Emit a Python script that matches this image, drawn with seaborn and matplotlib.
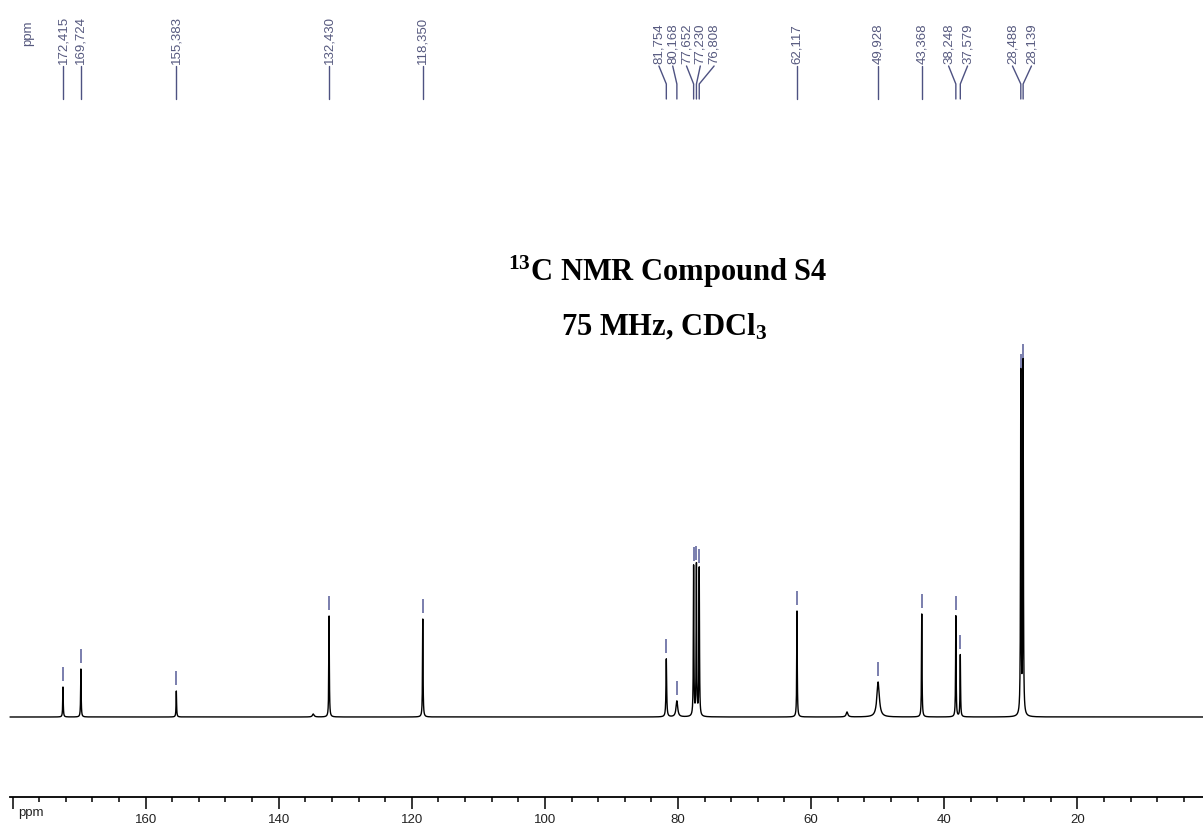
import numpy as np
import pandas as pd
import matplotlib
matplotlib.use("Agg")
import matplotlib.pyplot as plt
import seaborn as sns

# Picked 13C signals (ppm) and their relative intensities
peak_ppm = [172.415, 169.724, 155.383, 132.430, 118.350,
            81.754, 80.168, 77.652, 77.230, 76.808,
            62.117, 49.928, 43.368, 38.248, 37.579, 28.488, 28.139]
peak_height = [30, 48, 26, 101, 98,
               58, 16, 150, 151, 148,
               106, 35, 103, 101, 62, 343, 353]
peak_hwhm = [0.045, 0.045, 0.045, 0.045, 0.045,
             0.06, 0.15, 0.045, 0.045, 0.045,
             0.045, 0.22, 0.045, 0.045, 0.045, 0.045, 0.045]

# Small unpicked bumps in the baseline
minor_ppm = [134.8, 54.6]
minor_height = [3, 5]
minor_hwhm = [0.15, 0.15]

# Axis ticks
major_ticks = [180, 160, 140, 120, 100, 80, 60, 40, 20]
major_labels = ["", "160", "140", "120", "100", "80", "60", "40", "20"]

sns.set_theme(style="white")
plt.rcParams["font.family"] = ["Liberation Sans", "DejaVu Sans"]
plt.rcParams["mathtext.fontset"] = "custom"
plt.rcParams["mathtext.rm"] = "Liberation Serif:bold"
plt.rcParams["mathtext.it"] = "Liberation Serif:bold"
plt.rcParams["mathtext.bf"] = "Liberation Serif:bold"

W, H = 1203, 828
X_LEFT, X_RIGHT = 181.88, 1.11
SPEC_START = 180.38
LABEL_COLOR = "#56597f"
STEM_COLOR = "#4e5282"
MARK_COLOR = "#6468a0"

fig = plt.figure(figsize=(W / 100, H / 100), dpi=100)
ax = fig.add_axes([0, 30 / H, 1, 798 / H])
ax.set_xlim(X_LEFT, X_RIGHT)
ax.set_ylim(-80, 718)


def ypx(v):
    """Pixel row (from top of figure) to data y."""
    return 718 - v


# Build the spectrum as a sum of Lorentzian lines
all_ppm = np.array(peak_ppm + minor_ppm)
all_h = np.array(peak_height + minor_height, dtype=float)
all_w = np.array(peak_hwhm + minor_hwhm)
grid = np.union1d(np.arange(X_RIGHT, SPEC_START, 0.005), all_ppm)
signal = np.zeros_like(grid)
for c, h, w in zip(all_ppm, all_h, all_w):
    signal += h * w ** 2 / ((grid - c) ** 2 + w ** 2)

spec = pd.DataFrame({"ppm": grid, "intensity": signal})
sns.lineplot(data=spec, x="ppm", y="intensity", ax=ax, color="black",
             linewidth=1.0, estimator=None, sort=False)
ax.set_xlabel("")
ax.set_ylabel("")

# Peak-pick markers above each signal
for c, h in zip(peak_ppm, peak_height):
    ax.vlines(c, h + 6, h + 20, color=MARK_COLOR, linewidth=1.2)

# Peak labels along the top, spread apart where signals crowd together
scale = W / (X_LEFT - X_RIGHT)


def to_px(p):
    return (X_LEFT - p) * scale


def to_ppm(x):
    return X_LEFT - x / scale


MIN_GAP = 13.8


def place(group, pxs):
    n = len(group)
    if n == 1:
        return [pxs[group[0]]]
    gap = MIN_GAP if n > 2 else 19
    center = np.mean([pxs[i] for i in group])
    return [center + (k - (n - 1) / 2) * gap for k in range(n)]


pxs = [to_px(p) for p in peak_ppm]
groups = [[i] for i in np.argsort(pxs)]
merged = True
while merged:
    merged = False
    for a in range(len(groups) - 1):
        left = place(groups[a], pxs)
        right = place(groups[a + 1], pxs)
        if right[0] - left[-1] < MIN_GAP:
            groups[a] = groups[a] + groups[a + 1]
            del groups[a + 1]
            merged = True
            break

label_px = {}
for g in groups:
    for i, x in zip(g, place(g, pxs)):
        label_px[i] = x

for i, c in enumerate(peak_ppm):
    lx = to_ppm(label_px[i])
    ax.plot([lx, c, c], [ypx(67), ypx(85), ypx(100)], color=STEM_COLOR,
            linewidth=1.0, solid_joinstyle="miter")
    ax.text(lx, ypx(64), f"{c:.3f}".replace(".", ","), rotation=90,
            ha="center", va="bottom", fontsize=9.5, color=LABEL_COLOR)

ax.text(to_ppm(28), ypx(33), "ppm", rotation=90, ha="center", va="center",
        fontsize=9.5, color=LABEL_COLOR)

# Bottom ppm axis
for side in ["top", "left", "right"]:
    ax.spines[side].set_visible(False)
ax.spines["bottom"].set_bounds(SPEC_START, X_RIGHT)
ax.spines["bottom"].set_linewidth(1.3)
ax.spines["bottom"].set_color("black")
ax.set_xticks(major_ticks)
ax.set_xticklabels(major_labels)
ax.xaxis.set_minor_locator(matplotlib.ticker.MultipleLocator(4))
ax.tick_params(axis="x", which="major", bottom=True, length=8.6, width=1.1,
               direction="out", pad=3, labelsize=9.5, colors="black",
               labelcolor="#222222")
ax.tick_params(axis="x", which="minor", bottom=True, length=3.6, width=1.1,
               direction="out", colors="black")
ax.set_yticks([])
ax.text(179.2, -80 - 15, "ppm", ha="left", va="center", fontsize=9.5,
        color="#222222")

# Title block
fig.text(668 / W, 1 - 281 / H, r"$^{13}$C NMR Compound S4", ha="center",
         va="baseline", fontsize=22, fontweight="bold",
         family="Liberation Serif", color="black")
fig.text(664 / W, 1 - 335 / H, r"75 MHz, CDCl$_{3}$", ha="center",
         va="baseline", fontsize=22, fontweight="bold",
         family="Liberation Serif", color="black")

fig.savefig("out.png", dpi=100)
